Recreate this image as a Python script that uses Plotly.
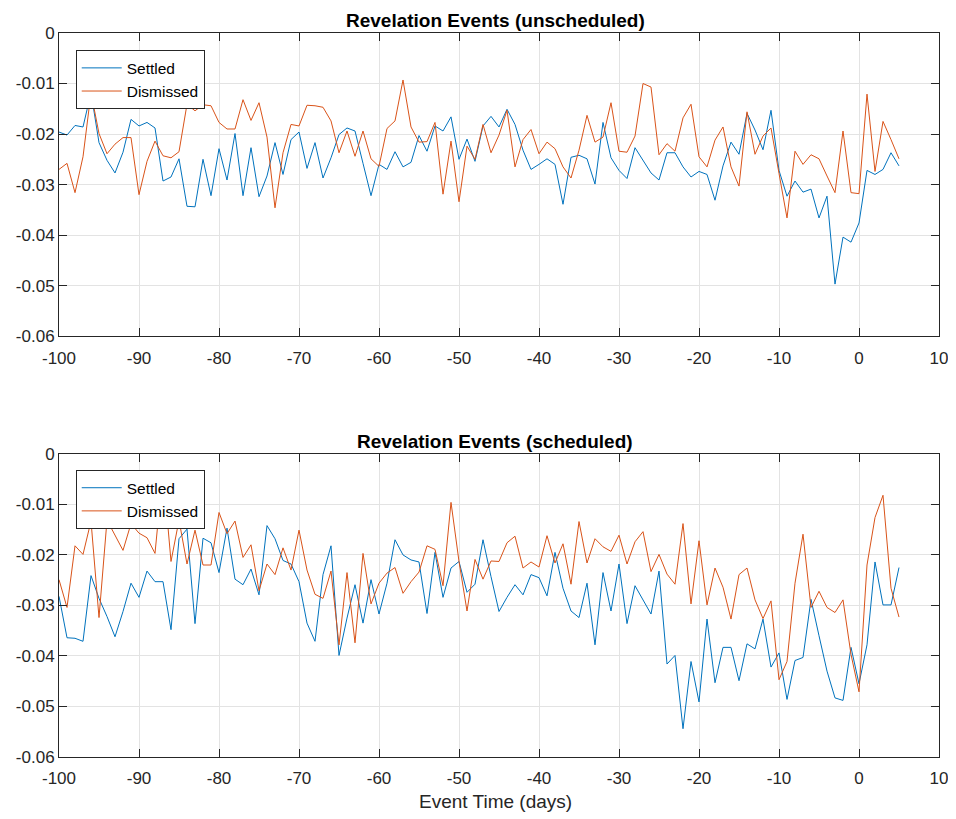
import plotly.graph_objects as go

days = list(range(-100, 6))

unsched_settled = [
    -0.0196, -0.0202, -0.0183, -0.0186, -0.0118, -0.0217, -0.0252, -0.0277, -0.0236, -0.0171,
    -0.0184, -0.0177, -0.0188, -0.0293, -0.0285, -0.0249, -0.0343, -0.0344, -0.0250, -0.0322,
    -0.0229, -0.0291, -0.0199, -0.0322, -0.0227, -0.0324, -0.0283, -0.0217, -0.0280, -0.0211,
    -0.0196, -0.0268, -0.0217, -0.0287, -0.0247, -0.0201, -0.0188, -0.0194, -0.0258, -0.0322,
    -0.0260, -0.0270, -0.0235, -0.0265, -0.0256, -0.0203, -0.0234, -0.0184, -0.0194, -0.0166,
    -0.0250, -0.0210, -0.0254, -0.0184, -0.0165, -0.0186, -0.0151, -0.0181, -0.0232, -0.0270,
    -0.0260, -0.0249, -0.0260, -0.0339, -0.0246, -0.0242, -0.0249, -0.0299, -0.0177, -0.0247,
    -0.0272, -0.0288, -0.0227, -0.0252, -0.0277, -0.0291, -0.0237, -0.0237, -0.0265, -0.0285,
    -0.0274, -0.0280, -0.0331, -0.0263, -0.0216, -0.0240, -0.0159, -0.0192, -0.0231, -0.0153,
    -0.0272, -0.0323, -0.0293, -0.0315, -0.0309, -0.0366, -0.0323, -0.0497, -0.0404, -0.0414,
    -0.0376, -0.0272, -0.0280, -0.0270, -0.0237, -0.0263,
]

unsched_dismissed = [
    -0.0270, -0.0258, -0.0316, -0.0245, -0.0118, -0.0199, -0.0239, -0.0220, -0.0207, -0.0207,
    -0.0320, -0.0254, -0.0214, -0.0243, -0.0247, -0.0235, -0.0141, -0.0154, -0.0142, -0.0144,
    -0.0177, -0.0190, -0.0190, -0.0132, -0.0173, -0.0138, -0.0206, -0.0346, -0.0237, -0.0181,
    -0.0184, -0.0143, -0.0144, -0.0147, -0.0174, -0.0237, -0.0194, -0.0244, -0.0194, -0.0249,
    -0.0264, -0.0189, -0.0174, -0.0093, -0.0186, -0.0216, -0.0215, -0.0177, -0.0319, -0.0214,
    -0.0334, -0.0224, -0.0250, -0.0181, -0.0237, -0.0202, -0.0153, -0.0265, -0.0211, -0.0191,
    -0.0239, -0.0216, -0.0229, -0.0265, -0.0287, -0.0232, -0.0163, -0.0216, -0.0206, -0.0138,
    -0.0234, -0.0236, -0.0204, -0.0100, -0.0107, -0.0241, -0.0219, -0.0234, -0.0168, -0.0141,
    -0.0245, -0.0265, -0.0212, -0.0186, -0.0265, -0.0303, -0.0156, -0.0240, -0.0204, -0.0188,
    -0.0278, -0.0366, -0.0234, -0.0260, -0.0241, -0.0249, -0.0283, -0.0316, -0.0194, -0.0316,
    -0.0318, -0.0121, -0.0274, -0.0175, -0.0211, -0.0249,
]

sched_settled = [
    -0.0282, -0.0364, -0.0365, -0.0371, -0.0241, -0.0286, -0.0322, -0.0362, -0.0312, -0.0256,
    -0.0284, -0.0232, -0.0253, -0.0253, -0.0348, -0.0168, -0.0149, -0.0336, -0.0167, -0.0176,
    -0.0235, -0.0147, -0.0248, -0.0259, -0.0228, -0.0279, -0.0142, -0.0168, -0.0211, -0.0218,
    -0.0253, -0.0335, -0.0371, -0.0239, -0.0182, -0.0399, -0.0325, -0.0259, -0.0335, -0.0249,
    -0.0317, -0.0256, -0.0170, -0.0200, -0.0210, -0.0214, -0.0316, -0.0195, -0.0284, -0.0226,
    -0.0213, -0.0274, -0.0258, -0.0170, -0.0243, -0.0312, -0.0284, -0.0259, -0.0279, -0.0239,
    -0.0245, -0.0281, -0.0195, -0.0266, -0.0311, -0.0324, -0.0256, -0.0378, -0.0235, -0.0311,
    -0.0218, -0.0336, -0.0261, -0.0289, -0.0317, -0.0232, -0.0416, -0.0399, -0.0544, -0.0411,
    -0.0491, -0.0327, -0.0453, -0.0383, -0.0383, -0.0449, -0.0376, -0.0386, -0.0327, -0.0422,
    -0.0394, -0.0486, -0.0409, -0.0403, -0.0288, -0.0360, -0.0430, -0.0483, -0.0488, -0.0383,
    -0.0455, -0.0378, -0.0214, -0.0299, -0.0299, -0.0225,
]

sched_dismissed = [
    -0.0249, -0.0304, -0.0182, -0.0199, -0.0133, -0.0324, -0.0131, -0.0161, -0.0191, -0.0138,
    -0.0157, -0.0166, -0.0197, -0.0032, -0.0213, -0.0131, -0.0218, -0.0151, -0.0220, -0.0220,
    -0.0116, -0.0158, -0.0133, -0.0205, -0.0180, -0.0271, -0.0218, -0.0239, -0.0186, -0.0230,
    -0.0151, -0.0230, -0.0278, -0.0286, -0.0232, -0.0378, -0.0235, -0.0374, -0.0197, -0.0297,
    -0.0256, -0.0236, -0.0225, -0.0276, -0.0253, -0.0234, -0.0182, -0.0189, -0.0261, -0.0096,
    -0.0213, -0.0311, -0.0209, -0.0248, -0.0212, -0.0213, -0.0176, -0.0163, -0.0226, -0.0214,
    -0.0224, -0.0162, -0.0216, -0.0178, -0.0258, -0.0134, -0.0216, -0.0168, -0.0184, -0.0193,
    -0.0161, -0.0218, -0.0174, -0.0154, -0.0233, -0.0199, -0.0238, -0.0258, -0.0138, -0.0297,
    -0.0172, -0.0299, -0.0226, -0.0264, -0.0327, -0.0239, -0.0226, -0.0289, -0.0326, -0.0291,
    -0.0447, -0.0411, -0.0256, -0.0159, -0.0304, -0.0272, -0.0304, -0.0314, -0.0289, -0.0397,
    -0.0471, -0.0220, -0.0126, -0.0082, -0.0266, -0.0323,
]

x_tickvals = [-100, -90, -80, -70, -60, -50, -40, -30, -20, -10, 0, 10]
x_ticktext = ["-100", "-90", "-80", "-70", "-60", "-50", "-40", "-30", "-20", "-10", "0", "10"]
y_tickvals = [0, -0.01, -0.02, -0.03, -0.04, -0.05, -0.06]
y_ticktext = ["0", "-0.01", "-0.02", "-0.03", "-0.04", "-0.05", "-0.06"]

titles = ["Revelation Events (unscheduled)", "Revelation Events (scheduled)"]
series_names = ["Settled", "Dismissed"]
x_label = "Event Time (days)"
BLUE = "#0072BD"
ORANGE = "#D95319"
FONT = "Liberation Sans, Arial, Helvetica, sans-serif"
AX = "#262626"

fig = go.Figure()
fig.add_trace(go.Scatter(x=days, y=unsched_settled, mode="lines", name=series_names[0],
                         line=dict(color=BLUE, width=1), xaxis="x", yaxis="y", legend="legend"))
fig.add_trace(go.Scatter(x=days, y=unsched_dismissed, mode="lines", name=series_names[1],
                         line=dict(color=ORANGE, width=1), xaxis="x", yaxis="y", legend="legend"))
fig.add_trace(go.Scatter(x=days, y=sched_settled, mode="lines", name=series_names[0],
                         line=dict(color=BLUE, width=1), xaxis="x2", yaxis="y2", legend="legend2"))
fig.add_trace(go.Scatter(x=days, y=sched_dismissed, mode="lines", name=series_names[1],
                         line=dict(color=ORANGE, width=1), xaxis="x2", yaxis="y2", legend="legend2"))

def xax(anchor):
    return dict(anchor=anchor, range=[-100, 10], tickvals=x_tickvals, ticktext=x_ticktext,
                showline=True, linecolor=AX, linewidth=1, mirror="ticks", ticks="inside",
                ticklen=8, tickcolor=AX, showgrid=True, gridcolor="#e3e3e3", gridwidth=1,
                zeroline=False, tickfont=dict(family=FONT, size=17, color=AX), domain=[0, 1],
                ticklabelstandoff=6)

def yax(anchor, dom):
    return dict(anchor=anchor, range=[-0.06, 0], tickvals=y_tickvals, ticktext=y_ticktext,
                showline=True, linecolor=AX, linewidth=1, mirror="ticks", ticks="inside",
                ticklen=8, tickcolor=AX, showgrid=True, gridcolor="#e3e3e3", gridwidth=1,
                zeroline=False, tickfont=dict(family=FONT, size=17, color=AX), domain=dom)

leg = dict(xanchor="left", yanchor="top", bgcolor="white", bordercolor=AX, borderwidth=1,
           font=dict(family=FONT, size=15.5, color="#000000"), tracegroupgap=0,
           itemwidth=40)

fig.update_layout(
    width=956, height=819,
    margin=dict(l=51, r=25, t=25, b=70, autoexpand=False),
    paper_bgcolor="white", plot_bgcolor="white",
    xaxis=xax("y"), yaxis=yax("x", [0.5813, 1.0]),
    xaxis2=xax("y2"), yaxis2=yax("x2", [0.0, 0.4187]),
    legend=dict(x=0.019, y=0.9761, **leg),
    legend2=dict(x=0.019, y=0.3962, **leg),
    showlegend=True,
    annotations=[
        dict(text="<b>" + titles[0] + "</b>", x=0.4959, y=1.0175, xref="paper", yref="paper",
             xanchor="center", yanchor="middle", showarrow=False,
             font=dict(family=FONT, size=19, color="#000000")),
        dict(text="<b>" + titles[1] + "</b>", x=0.4959, y=0.4363, xref="paper", yref="paper",
             xanchor="center", yanchor="middle", showarrow=False,
             font=dict(family=FONT, size=19, color="#000000")),
        dict(text=x_label, x=0.4959, y=-0.0621, xref="paper", yref="paper",
             xanchor="center", yanchor="middle", showarrow=False,
             font=dict(family=FONT, size=19, color=AX)),
    ],
)

fig.write_html("out.html")
